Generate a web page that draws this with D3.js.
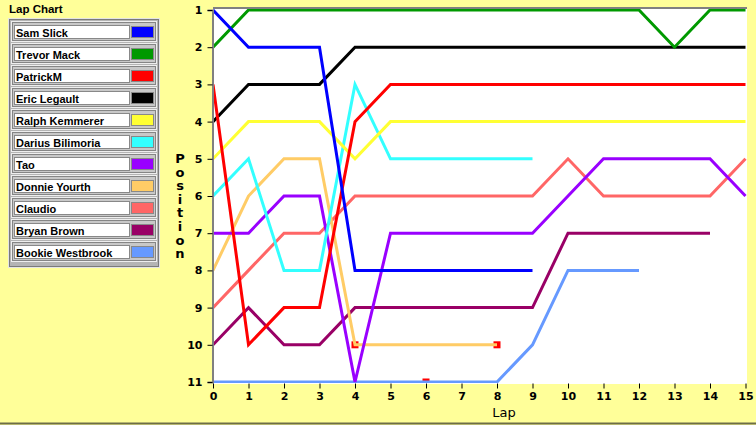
<!DOCTYPE html>
<html>
<head>
<meta charset="utf-8">
<script src="https://cdn.jsdelivr.net/npm/d3@7"></script>
<style>
  body { margin: 0; background: #ffff99; }
  svg { display: block; }
  text { font-family: "Liberation Sans", Arial, sans-serif; }
</style>
</head>
<body>
<div id="container"></div>
<script>
const drivers = ['Sam Slick', 'Trevor Mack', 'PatrickM', 'Eric Legault', 'Ralph Kemmerer',
  'Darius Bilimoria', 'Tao', 'Donnie Yourth', 'Claudio', 'Bryan Brown', 'Bookie Westbrook'];
const driverColors = ['#0000ff', '#009900', '#ff0000', '#000000', '#ffff33',
  '#33ffff', '#9900ff', '#ffcc66', '#ff6666', '#990066', '#6699ff'];

// position per lap, starting at lap 0
const samSlick = [1, 2, 2, 2, 8, 8, 8, 8, 8, 8];
const trevorMack = [2, 1, 1, 1, 1, 1, 1, 1, 1, 1, 1, 1, 1, 2, 1, 1];
const patrickM = [3, 10, 9, 9, 4, 3, 3, 3, 3, 3, 3, 3, 3, 3, 3, 3];
const ericLegault = [4, 3, 3, 3, 2, 2, 2, 2, 2, 2, 2, 2, 2, 2, 2, 2];
const ralphKemmerer = [5, 4, 4, 4, 5, 4, 4, 4, 4, 4, 4, 4, 4, 4, 4, 4];
const dariusBilimoria = [6, 5, 8, 8, 3, 5, 5, 5, 5, 5];
const tao = [7, 7, 6, 6, 11, 7, 7, 7, 7, 7, 6, 5, 5, 5, 5, 6];
const donnieYourth = [8, 6, 5, 5, 10, 10, 10, 10, 10];
const claudio = [9, 8, 7, 7, 6, 6, 6, 6, 6, 6, 5, 6, 6, 6, 6, 5];
const bryanBrown = [10, 9, 10, 10, 9, 9, 9, 9, 9, 9, 7, 7, 7, 7, 7];
const bookieWestbrook = [11, 11, 11, 11, 11, 11, 11, 11, 11, 10, 8, 8, 8];
const positions = [samSlick, trevorMack, patrickM, ericLegault, ralphKemmerer,
  dariusBilimoria, tao, donnieYourth, claudio, bryanBrown, bookieWestbrook];

// red flags drawn on the chart
const flagLaps = [4, 8, 6];
const flagPositions = [10, 10, 11];

const lapTicks = [0, 1, 2, 3, 4, 5, 6, 7, 8, 9, 10, 11, 12, 13, 14, 15];
const positionTicks = [1, 2, 3, 4, 5, 6, 7, 8, 9, 10, 11];

const width = 756, height = 425;
const plot = { left: 213, right: 747, top: 8, bottom: 384 };

const svg = d3.select('#container').append('svg')
  .attr('width', width)
  .attr('height', height);

svg.append('rect')
  .attr('width', width).attr('height', height)
  .attr('fill', '#ffff99');
svg.append('line')
  .attr('x1', 0).attr('x2', width).attr('y1', height - 1.5).attr('y2', height - 1.5)
  .attr('stroke', '#6e6e48').attr('stroke-width', 2);

const x = d3.scaleLinear().domain([0, 15]).range([213, 745.5]);
const y = d3.scaleLinear().domain([1, 11]).range([10, 382]);

// plot area
svg.append('rect')
  .attr('x', plot.left).attr('y', plot.top)
  .attr('width', plot.right - plot.left).attr('height', plot.bottom - plot.top)
  .attr('fill', '#ffffff');

svg.append('clipPath').attr('id', 'clip')
  .append('rect')
  .attr('x', plot.left).attr('y', plot.top)
  .attr('width', plot.right - plot.left).attr('height', plot.bottom - plot.top - 1);

const marks = svg.append('g').attr('clip-path', 'url(#clip)');

marks.selectAll('rect.flag')
  .data(flagLaps.map((lap, i) => [lap, flagPositions[i]]))
  .join('rect')
    .attr('class', 'flag')
    .attr('x', d => x(d[0]) - 3.5)
    .attr('y', d => y(d[1]) - 3.5)
    .attr('width', 7).attr('height', 7)
    .attr('fill', '#ff0000');

const line = d3.line()
  .x((d, i) => x(i))
  .y(d => y(d));

marks.selectAll('path.lap')
  .data(positions.map((p, i) => ({ p, i })).reverse())
  .join('path')
    .attr('class', 'lap')
    .attr('d', d => line(d.p))
    .attr('fill', 'none')
    .attr('stroke', d => driverColors[d.i])
    .attr('stroke-width', 3)
    .attr('stroke-linejoin', 'miter');

// frame line on top
svg.append('line')
  .attr('x1', plot.left).attr('x2', plot.right).attr('y1', plot.top).attr('y2', plot.top)
  .attr('stroke', '#808080').attr('stroke-width', 2);

const yAxis = d3.axisLeft(y).tickValues(positionTicks).tickSize(5).tickPadding(5);
const yg = svg.append('g').attr('transform', `translate(${plot.left - 0.5},0)`).call(yAxis);
yg.select('.domain').attr('stroke', '#808080').attr('stroke-width', 2);
yg.selectAll('.tick line').attr('stroke', '#000');
yg.selectAll('.tick text')
  .attr('font-size', 11).attr('font-weight', 'bold').attr('fill', '#000')
  .style('font-family', '"DejaVu Sans", sans-serif');

const xAxis = d3.axisBottom(x).tickValues(lapTicks).tickSize(5).tickPadding(4);
const xg = svg.append('g').attr('transform', `translate(0,${plot.bottom - 0.5})`).call(xAxis);
xg.select('.domain').remove();
xg.selectAll('.tick line').attr('stroke', '#000');
xg.selectAll('.tick text')
  .attr('font-size', 11).attr('font-weight', 'bold').attr('fill', '#000')
  .style('font-family', '"DejaVu Sans", sans-serif');

svg.append('text')
  .attr('x', 504).attr('y', 417)
  .attr('text-anchor', 'middle')
  .attr('font-size', 13)
  .style('font-family', '"DejaVu Sans", sans-serif')
  .text('Lap');

const yLabel = svg.append('text')
  .attr('x', 180).attr('y', 163)
  .attr('text-anchor', 'middle')
  .attr('font-size', 13).attr('font-weight', 'bold')
  .style('font-family', '"DejaVu Sans", sans-serif');
yLabel.selectAll('tspan')
  .data('Position'.split(''))
  .join('tspan')
    .attr('x', 180)
    .attr('dy', (d, i) => i === 0 ? 0 : 13.6)
    .text(d => d);

// legend
svg.append('text')
  .attr('x', 9).attr('y', 13)
  .attr('font-size', 11.5)
  .attr('font-weight', 'bold')
  .text('Lap Chart');

const legend = svg.append('g');
legend.append('rect')
  .attr('x', 8.5).attr('y', 18.5).attr('width', 151).attr('height', 249)
  .attr('fill', '#b4b4b4').attr('stroke', '#e4e4e4');
legend.append('rect')
  .attr('x', 9.5).attr('y', 19.5).attr('width', 149).attr('height', 247)
  .attr('fill', 'none').attr('stroke', '#7a7a7a');

const item = legend.selectAll('g.item')
  .data(drivers)
  .join('g')
    .attr('class', 'item')
    .attr('transform', (d, i) => `translate(0,${20 + i * 22})`);

item.append('rect')
  .attr('x', 11.5).attr('y', 1.5).attr('width', 145).attr('height', 20)
  .attr('fill', '#c8c8c8').attr('stroke', '#eeeeee');
item.append('rect')
  .attr('x', 12.5).attr('y', 2.5).attr('width', 143).attr('height', 18)
  .attr('fill', 'none').attr('stroke', '#858585');
item.append('rect')
  .attr('x', 14.5).attr('y', 5.5).attr('width', 115).attr('height', 13)
  .attr('fill', '#ffffff').attr('stroke', '#888888');
item.append('rect')
  .attr('x', 131.5).attr('y', 6.5).attr('width', 22).attr('height', 11)
  .attr('fill', (d, i) => driverColors[i]).attr('stroke', '#888888');
item.append('text')
  .attr('x', 16).attr('y', 16.5)
  .attr('font-size', 11).attr('font-weight', 'bold')
  .text(d => d);
</script>
</body>
</html>
